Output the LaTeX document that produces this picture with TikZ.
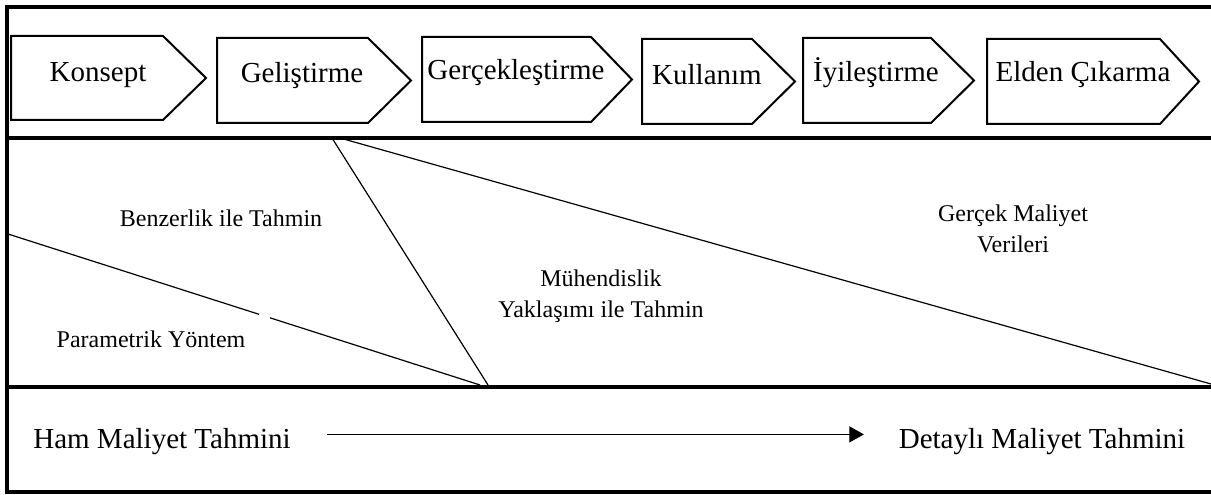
\documentclass[tikz,border=0pt]{standalone}
\usepackage{fontspec}
\setmainfont{Liberation Serif}
\usetikzlibrary{arrows.meta,calc}

\begin{document}
\begin{tikzpicture}[x=0.75pt,y=-0.75pt,
  big/.style={anchor=base,inner sep=0pt,font=\fontsize{21.75}{26}\selectfont},
  small/.style={anchor=base,inner sep=0pt,align=center,
    font=\fontsize{18}{23.25}\selectfont},
  band/.style={line width=3pt,line join=miter},
  phase/.style={line width=1.5pt,line join=miter},
  split/.style={line width=0.9pt}]
  \useasboundingbox (0,0) rectangle (1211,495);

  % outer frame and bands
  \draw[band] (1211,7) -- (7,7) -- (7,492) -- (1211,492);
  \draw[band] (7,138) -- (1211,138);
  \draw[band] (7,387) -- (1211,387);

  % life-cycle phases
  \foreach \n/\l/\r/\p/\t/\b/\tx/\ty/\lab in {
      1/11/163/206/36/120/98/82/Konsept,
      2/217/368/411/38/123/302/83/Geliştirme,
      3/422/591/632/37/122/516/80/Gerçekleştirme,
      4/642/752/795/39/124/707/85/Kullanım,
      5/803/931/974/38/123/876/82/İyileştirme,
      6/987/1160/1199/39/124/1083/82/Elden Çıkarma} {
    \draw[phase] (\l,\t) -- (\r,\t) -- (\p,{(\t+\b)/2}) -- (\r,\b)
      -- (\l,\b) -- cycle;
    \node[big] (ph\n) at (\tx,\ty) {\lab};
  }

  % estimating methods
  \coordinate (parA) at (8,234);
  \coordinate (parB) at (480,385);
  \draw[split] (parA) -- ($(parA)!0.532!(parB)$);
  \draw[split] ($(parA)!0.555!(parB)$) -- (parB);
  \coordinate (engA) at (332,138);
  \coordinate (engB) at (488,385);
  \draw[split] (engA) -- (engB);
  \coordinate (actA) at (340,138);
  \coordinate (actB) at (1211,384);
  \draw[split] (actA) -- (actB);

  % (base of a two-line node is its last line)
  \node[small] (benz) at (221,227) {Benzerlik ile Tahmin};
  \node[small] (param) at (151,348) {Parametrik Yöntem};
  \node[small] (muh) at (601,318) {Mühendislik\\Yaklaşımı ile Tahmin};
  \node[small] (gercek) at (1013,253) {Gerçek Maliyet\\Verileri};

  % rough to detailed
  \node[big] (ham) at (162,448) {Ham Maliyet Tahmini};
  \node[big] (detay) at (1042,448) {Detaylı Maliyet Tahmini};
  \draw[-{Triangle[length=11pt,width=12pt]},line width=1.1pt,
    shorten <=27pt,shorten >=26pt]
    ([yshift=5pt]ham.east) -- ([yshift=5pt]detay.west);
\end{tikzpicture}
\end{document}
